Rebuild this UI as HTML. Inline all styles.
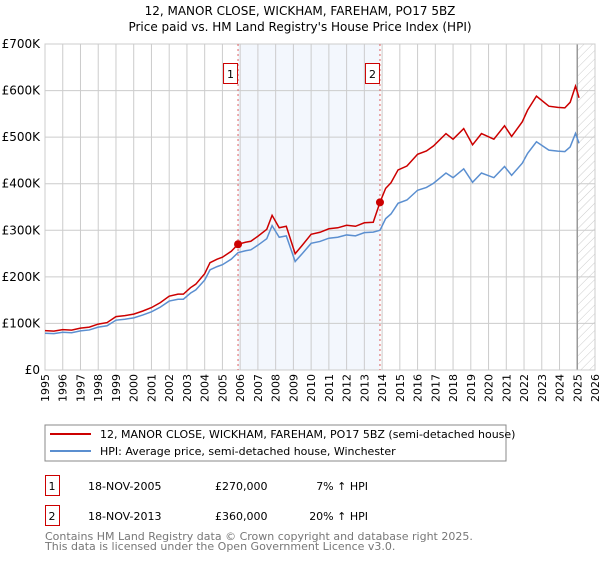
<!DOCTYPE html>
<html><head><meta charset="utf-8"><style>
body{margin:0;background:#fff;font-family:"DejaVu Sans","Liberation Sans",sans-serif;}
svg text{font-family:"DejaVu Sans","Liberation Sans",sans-serif;}
</style></head><body>
<svg id="c" width="600" height="560" xmlns="http://www.w3.org/2000/svg">
<defs><pattern id="hatch" width="6" height="6" patternUnits="userSpaceOnUse" patternTransform="rotate(45)"><line x1="0" y1="0" x2="0" y2="6" stroke="#ccc" stroke-width="1"/></pattern></defs>
<text x="300" y="15" text-anchor="middle" font-size="12">12, MANOR CLOSE, WICKHAM, FAREHAM, PO17 5BZ</text>
<text x="300" y="31" text-anchor="middle" font-size="12">Price paid vs. HM Land Registry's House Price Index (HPI)</text>
<g id="plot"></g>
<rect x="45" y="425" width="461" height="36" fill="#fff" stroke="#888"/>
<line x1="50" y1="434" x2="91" y2="434" stroke="#cc0000" stroke-width="2"/>
<text x="100" y="438" font-size="11">12, MANOR CLOSE, WICKHAM, FAREHAM, PO17 5BZ (semi-detached house)</text>
<line x1="50" y1="451" x2="91" y2="451" stroke="#5b8fd0" stroke-width="2"/>
<text x="100" y="455" font-size="11">HPI: Average price, semi-detached house, Winchester</text>
<rect x="45.5" y="475.5" width="14" height="20" fill="none" stroke="#cc0000"/>
<text x="52" y="490" font-size="11" text-anchor="middle">1</text>
<text x="88" y="490" font-size="11">18-NOV-2005</text>
<text x="215" y="490" font-size="11">£270,000</text>
<text x="368" y="490" font-size="11" text-anchor="end">7% ↑ HPI</text>
<rect x="45.5" y="505.5" width="14" height="20" fill="none" stroke="#cc0000"/>
<text x="52" y="520" font-size="11" text-anchor="middle">2</text>
<text x="88" y="520" font-size="11">18-NOV-2013</text>
<text x="215" y="520" font-size="11">£360,000</text>
<text x="368" y="520" font-size="11" text-anchor="end">20% ↑ HPI</text>
<text x="45" y="540" font-size="11" fill="#777">Contains HM Land Registry data © Crown copyright and database right 2025.</text>
<text x="45" y="550" font-size="11" fill="#777">This data is licensed under the Open Government Licence v3.0.</text>
</svg>
<script>
const yTicks=[0,100,200,300,400,500,600,700];
const yTickLabels=["£0","£100K","£200K","£300K","£400K","£500K","£600K","£700K"];
const years=[1995,1996,1997,1998,1999,2000,2001,2002,2003,2004,2005,2006,2007,2008,2009,2010,2011,2012,2013,2014,2015,2016,2017,2018,2019,2020,2021,2022,2023,2024,2025,2026];
const hpiDates=[1995,1995.5,1996,1996.5,1997,1997.5,1998,1998.5,1999,1999.5,2000,2000.5,2001,2001.5,2002,2002.5,2002.8,2003.2,2003.5,2004,2004.3,2004.7,2005,2005.5,2005.88,2006.3,2006.6,2007,2007.5,2007.8,2008.2,2008.6,2009.1,2009.5,2010,2010.5,2011,2011.5,2012,2012.5,2013,2013.5,2013.88,2014.2,2014.5,2014.9,2015.4,2016,2016.5,2016.9,2017.6,2018,2018.6,2019.1,2019.6,2020.3,2020.9,2021.3,2021.9,2022.2,2022.7,2023.4,2023.9,2024.3,2024.6,2024.9,2025.1];
const hpiValues=[79,78,81,80,84,86,92,95,107,109,112,118,125,135,148,152,152,165,172,193,215,222,226,238,252,256,258,268,282,310,285,288,233,250,272,276,283,285,290,288,295,296,300,325,335,358,365,386,392,401,423,413,432,403,423,413,437,418,444,465,490,472,470,469,479,508,487];
const sales=[{d:2005.88,v:270,label:"1"},{d:2013.88,v:360,label:"2"}];
const NS='http://www.w3.org/2000/svg';
const L=45,R=595,T=44,B=370,Y0=1995,Y1=2026;
const xs=d=>L+(d-Y0)/(Y1-Y0)*(R-L);
const ys=v=>B-v/700*(B-T);
const g=document.getElementById('plot');
function mk(t,a){const e=document.createElementNS(NS,t);for(const k in a)e.setAttribute(k,a[k]);g.appendChild(e);return e;}
let e;
e=mk('rect',{x:xs(sales[0].d),y:T,width:xs(sales[1].d)-xs(sales[0].d),height:B-T,fill:'#eef3fc',opacity:0.7});


e=mk('rect',{x:xs(2025),y:T,width:R-xs(2025),height:B-T,fill:'url(#hatch)'});


years.forEach(yr=>{
 e=mk('line',{x1:xs(yr),y1:T,x2:xs(yr),y2:B,stroke:'#ccc','stroke-width':1});
 
 
 e=mk('text',{x:0,y:0,'font-size':11,'text-anchor':'end',transform:`translate(${xs(yr)+4},374) rotate(-90)`});
 e.textContent=yr;
 
 
});
yTicks.forEach((v,i)=>{
 e=mk('line',{x1:L,y1:ys(v),x2:R,y2:ys(v),stroke:'#ccc','stroke-width':1});
 
 
 e=mk('text',{x:40,y:ys(v)+4,'font-size':12,'text-anchor':'end'});
 e.textContent=yTickLabels[i];
 
 
});
e=mk('line',{x1:xs(2025),y1:T,x2:xs(2025),y2:B,stroke:'#999','stroke-width':1.5});


e=mk('rect',{x:L,y:T,width:R-L,height:B-T,fill:'none',stroke:'#ccc'});


sales.forEach(s=>{
 e=mk('line',{x1:xs(s.d),y1:T,x2:xs(s.d),y2:B,stroke:'#e06060','stroke-width':1,'stroke-dasharray':'2,3'});
 
 
});
function hpiAt(d){for(let i=1;i<hpiDates.length;i++){if(d<=hpiDates[i]){const t=(d-hpiDates[i-1])/(hpiDates[i]-hpiDates[i-1]);return hpiValues[i-1]+t*(hpiValues[i]-hpiValues[i-1]);}}return hpiValues[hpiValues.length-1];}
const redValues=hpiDates.map((d,i)=>{const s=d<sales[1].d?sales[0]:sales[1];return hpiValues[i]*s.v/hpiAt(s.d);});
e=mk('polyline',{points:hpiDates.map((d,i)=>xs(d)+','+ys(hpiValues[i])).join(' '),fill:'none',stroke:'#5b8fd0','stroke-width':1.5});


e=mk('polyline',{points:hpiDates.map((d,i)=>xs(d)+','+ys(redValues[i])).join(' '),fill:'none',stroke:'#cc0000','stroke-width':1.5});


sales.forEach(s=>{
 e=mk('circle',{cx:xs(s.d),cy:ys(s.v),r:4,fill:'#cc0000'});
 
 
 e=mk('rect',{x:xs(s.d)-14.5,y:63.5,width:14,height:20,fill:'#fff',stroke:'#cc0000'});
 
 
 e=mk('text',{x:xs(s.d)-7.5,y:78,'font-size':11,'text-anchor':'middle'});
 e.textContent=s.label;
 
 
});
</script>
</body></html>
